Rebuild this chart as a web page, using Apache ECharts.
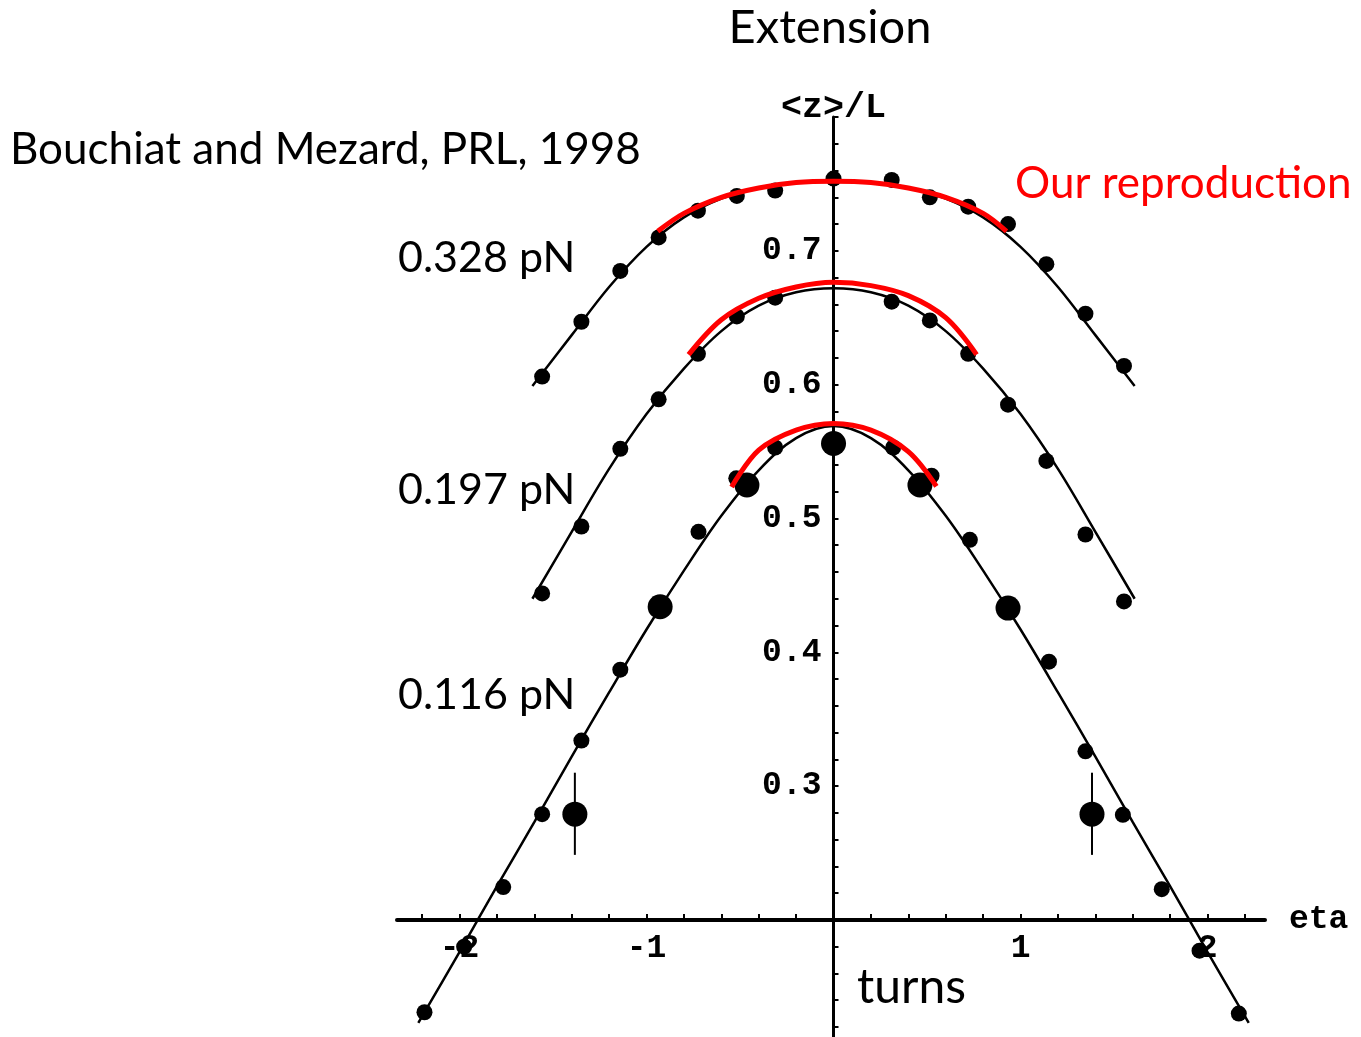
<!DOCTYPE html>
<html>
<head>
<meta charset="utf-8">
<script src="https://cdn.jsdelivr.net/npm/echarts@6/dist/echarts.min.js"></script>
<style>
  html, body { margin: 0; padding: 0; background: #ffffff; }
  #chart { width: 1361px; height: 1037px; }
</style>
</head>
<body>
<div id="chart"></div>
<script>
// Relative extension <z>/L versus supercoiling eta, three stretching forces.

// Axis tick labels
const xTickLabels = [-2, -1, 1, 2];
const yTickLabels = [0.3, 0.4, 0.5, 0.6, 0.7];

// Measured points, 0.328 pN
const dotX328 = [-1.558, -1.348, -1.14, -0.935, -0.725, -0.517, -0.312, 0, 0.311, 0.515, 0.72, 0.933, 1.138, 1.347, 1.553];
const dotY328 = [0.606, 0.647, 0.685, 0.710, 0.730, 0.741, 0.745, 0.754, 0.753, 0.740, 0.733, 0.720, 0.690, 0.653, 0.614];

// Measured points, 0.197 pN
const dotX197 = [-1.558, -1.348, -1.14, -0.935, -0.725, -0.517, -0.312, 0.311, 0.515, 0.72, 0.933, 1.138, 1.347, 1.553];
const dotY197 = [0.444, 0.494, 0.552, 0.589, 0.623, 0.651, 0.665, 0.662, 0.648, 0.623, 0.585, 0.543, 0.488, 0.438];

// Measured points, 0.116 pN (small markers)
const dotX116 = [-2.187, -1.975, -1.766, -1.558, -1.348, -1.14, -0.722, -0.52, -0.312, 0.319, 0.524, 0.729, 1.152, 1.347, 1.547, 1.755, 1.957, 2.167];
const dotY116 = [0.131, 0.180, 0.2245, 0.279, 0.334, 0.387, 0.490, 0.530, 0.553, 0.553, 0.532, 0.484, 0.393, 0.326, 0.2785, 0.223, 0.177, 0.130];

// Second data set at 0.116 pN (large markers)
const bigX116 = [-0.927, -0.463, 0, 0.462, 0.933];
const bigY116 = [0.434, 0.525, 0.556, 0.525, 0.433];

// Points with error bars
const errX = [-1.383, 1.382];
const errY = [0.279, 0.279];
const errLo = [0.2486, 0.2486];
const errHi = [0.310, 0.310];

// Theory curves (Bouchiat & Mezard)
const curveX328 = [-1.61, -1.4, -1.2, -1.0, -0.8, -0.6, -0.4, -0.2, 0, 0.2, 0.4, 0.6, 0.8, 1.0, 1.2, 1.4, 1.61];
const curveY328 = [0.599, 0.637, 0.673, 0.703, 0.725, 0.739, 0.747, 0.751, 0.752, 0.751, 0.747, 0.739, 0.725, 0.703, 0.673, 0.637, 0.599];
const curveX197 = [-1.61, -1.4, -1.2, -1.0, -0.8, -0.6, -0.4, -0.2, 0, 0.2, 0.4, 0.6, 0.8, 1.0, 1.2, 1.4, 1.61];
const curveY197 = [0.440, 0.490, 0.537, 0.578, 0.612, 0.640, 0.659, 0.669, 0.672, 0.669, 0.659, 0.640, 0.612, 0.578, 0.537, 0.490, 0.440];
const curveX116 = [-2.22, -2.0, -1.8, -1.6, -1.4, -1.2, -1.0, -0.8, -0.6, -0.4, -0.2, 0, 0.2, 0.4, 0.6, 0.8, 1.0, 1.2, 1.4, 1.6, 1.8, 2.0, 2.22];
const curveY116 = [0.123, 0.176, 0.225, 0.273, 0.322, 0.370, 0.417, 0.461, 0.502, 0.536, 0.560, 0.569, 0.560, 0.536, 0.502, 0.461, 0.417, 0.370, 0.322, 0.273, 0.225, 0.176, 0.123];

// Our reproduction
const redX328 = [-0.94, -0.8, -0.6, -0.4, -0.2, 0, 0.2, 0.4, 0.6, 0.8, 0.925];
const redY328 = [0.7146, 0.728, 0.740, 0.747, 0.751, 0.752, 0.751, 0.747, 0.740, 0.728, 0.7146];
const redX197 = [-0.775, -0.6, -0.4, -0.2, 0, 0.2, 0.4, 0.6, 0.765];
const redY197 = [0.6224, 0.6485, 0.6645, 0.673, 0.6765, 0.674, 0.6665, 0.650, 0.6224];
const redX116 = [-0.545, -0.4, -0.2, 0, 0.2, 0.4, 0.55];
const redY116 = [0.5235, 0.551, 0.566, 0.571, 0.566, 0.550, 0.524];

const zip = (xs, ys) => xs.map((x, i) => [x, ys[i]]);

// minor tick positions
const xMinor = [];
for (let k = -11; k <= 11; k++) xMinor.push(+(k * 0.2).toFixed(2));
const yMinor = [];
for (let k = 6; k <= 40; k++) yMinor.push(+(k * 0.02).toFixed(2));

const monoFont = { fontFamily: 'Liberation Mono', fontWeight: 'bold', fontSize: 33, color: '#000' };
const slideFont = 'Lato';

const chart = echarts.init(document.getElementById('chart'), null, { renderer: 'canvas' });

function curve(xs, ys, color, width, z) {
  return {
    type: 'line', data: zip(xs, ys), smooth: 0.35, symbol: 'none', z: z,
    lineStyle: { color: color, width: width, opacity: 1 }, silent: true
  };
}
function dots(xs, ys, size) {
  return {
    type: 'scatter', data: zip(xs, ys), symbol: 'circle', symbolSize: size, z: 3,
    itemStyle: { color: '#000', opacity: 1 }, silent: true
  };
}

chart.setOption({
  animation: false,
  backgroundColor: '#ffffff',
  grid: { left: 397, right: 96, top: 117, bottom: 0, containLabel: false, outerBoundsMode: 'none' },
  xAxis: {
    type: 'value', min: -2.334, max: 2.307,
    offset: -117,
    axisLine: { onZero: false, lineStyle: { color: '#000', width: 4 } },
    axisTick: { show: true, inside: true, length: 6, customValues: xMinor, lineStyle: { color: '#000', width: 2 } },
    axisLabel: Object.assign({ customValues: xTickLabels, margin: 12, formatter: v => String(v) }, monoFont),
    splitLine: { show: false },
    name: 'eta', nameLocation: 'end', nameGap: 24,
    nameTextStyle: Object.assign({ verticalAlign: 'middle', padding: [10, 0, 0, 0] }, monoFont)
  },
  yAxis: {
    type: 'value', min: 0.1125, max: 0.8,
    offset: -436.5,
    axisLine: { onZero: false, lineStyle: { color: '#000', width: 3 } },
    axisTick: { show: true, inside: true, length: 5, customValues: yMinor, lineStyle: { color: '#000', width: 2 } },
    axisLabel: Object.assign({ customValues: yTickLabels, margin: 12, formatter: v => v.toFixed(1) }, monoFont),
    splitLine: { show: false },
    name: '<z>/L', nameLocation: 'end', nameGap: -9,
    nameTextStyle: Object.assign({ align: 'center' }, monoFont, { fontSize: 35 })
  },
  series: [
    curve(curveX328, curveY328, '#000', 2.5, 2),
    curve(curveX197, curveY197, '#000', 2.5, 2),
    curve(curveX116, curveY116, '#000', 2.5, 2),
    dots(dotX328, dotY328, 16),
    dots(dotX197, dotY197, 16),
    dots(dotX116, dotY116, 16),
    dots(bigX116, bigY116, 25),
    dots(errX, errY, 25),
    {
      type: 'custom', z: 3, silent: true,
      data: errX.map((x, i) => [x, errLo[i], errHi[i]]),
      encode: { x: 0, y: [1, 2] },
      renderItem: (params, api) => {
        const a = api.coord([api.value(0), api.value(1)]);
        const b = api.coord([api.value(0), api.value(2)]);
        return { type: 'line', shape: { x1: a[0], y1: a[1], x2: b[0], y2: b[1] }, style: { stroke: '#000', lineWidth: 2 } };
      }
    },
    curve(redX328, redY328, '#ff0000', 5, 6),
    curve(redX197, redY197, '#ff0000', 5, 6),
    curve(redX116, redY116, '#ff0000', 5, 6)
  ],
  graphic: [
    { type: 'text', x: 830, y: 28, style: { text: 'Extension', font: '47px ' + slideFont, fill: '#000', align: 'center', verticalAlign: 'middle' } },
    { type: 'text', x: 10, y: 150, style: { text: 'Bouchiat and Mezard, PRL, 1998', font: '44px ' + slideFont, fill: '#000', align: 'left', verticalAlign: 'middle' } },
    { type: 'text', x: 398, y: 258, style: { text: '0.328 pN', font: '43px ' + slideFont, fill: '#000', align: 'left', verticalAlign: 'middle' } },
    { type: 'text', x: 398, y: 490, style: { text: '0.197 pN', font: '43px ' + slideFont, fill: '#000', align: 'left', verticalAlign: 'middle' } },
    { type: 'text', x: 398, y: 695, style: { text: '0.116 pN', font: '43px ' + slideFont, fill: '#000', align: 'left', verticalAlign: 'middle' } },
    { type: 'text', x: 1015, y: 184, style: { text: 'Our reproduction', font: '44px ' + slideFont, fill: '#ff0000', align: 'left', verticalAlign: 'middle' } },
    { type: 'text', x: 857, y: 988, style: { text: 'turns', font: '48px ' + slideFont, fill: '#000', align: 'left', verticalAlign: 'middle' } }
  ]
});
</script>
</body>
</html>
